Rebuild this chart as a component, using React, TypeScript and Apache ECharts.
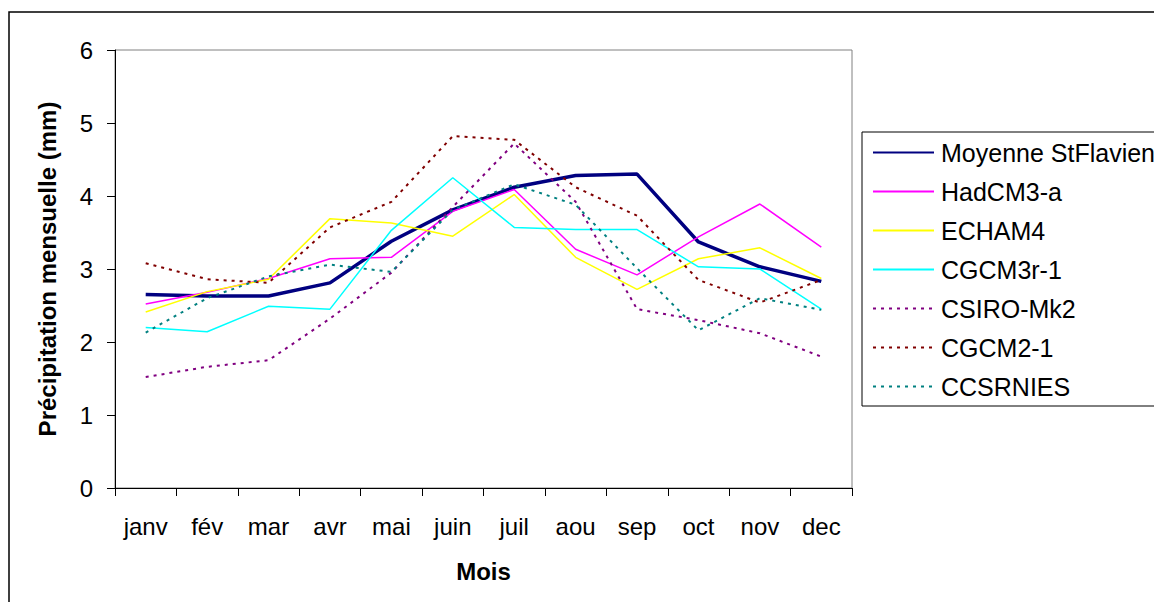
import React, { useEffect, useRef } from "react";
import * as echarts from "echarts";

const months = ["janv", "fév", "mar", "avr", "mai", "juin", "juil", "aou", "sep", "oct", "nov", "dec"];
const yTicks = [0, 1, 2, 3, 4, 5, 6];

const moyenne = [2.65, 2.63, 2.63, 2.81, 3.38, 3.81, 4.12, 4.28, 4.3, 3.37, 3.03, 2.83];
const hadcm3 = [2.52, 2.68, 2.87, 3.14, 3.16, 3.79, 4.09, 3.27, 2.92, 3.44, 3.89, 3.3];
const echam4 = [2.41, 2.69, 2.86, 3.69, 3.63, 3.45, 4.02, 3.16, 2.72, 3.14, 3.29, 2.87];
const cgcm3r1 = [2.2, 2.14, 2.49, 2.45, 3.53, 4.25, 3.57, 3.54, 3.54, 3.03, 3.0, 2.45];
const csiroMk2 = [1.52, 1.66, 1.75, 2.32, 2.95, 3.85, 4.72, 3.92, 2.45, 2.3, 2.12, 1.8];
const cgcm21 = [3.08, 2.86, 2.81, 3.57, 3.92, 4.82, 4.77, 4.12, 3.73, 2.85, 2.54, 2.85];
const ccsrnies = [2.13, 2.6, 2.9, 3.06, 2.96, 3.81, 4.16, 3.88, 3.01, 2.16, 2.6, 2.44];

const seriesNames = ["Moyenne StFlavien", "HadCM3-a", "ECHAM4", "CGCM3r-1", "CSIRO-Mk2", "CGCM2-1", "CCSRNIES"];
const seriesData = [moyenne, hadcm3, echam4, cgcm3r1, csiroMk2, cgcm21, ccsrnies];
const seriesColors = ["#000080", "#FF00FF", "#FFFF00", "#00FFFF", "#800080", "#800000", "#008080"];
const seriesWidths = [3.5, 1.5, 1.5, 1.5, 2, 2, 2];
const seriesDashed = [false, false, false, false, true, true, true];

const FONT = "'Liberation Sans', Arial, sans-serif";

export default function App() {
  const ref = useRef<HTMLDivElement>(null);
  useEffect(() => {
    if (!ref.current) return;
    const chart = echarts.init(ref.current, null, { renderer: "svg" });
    chart.setOption({
      animation: false,
      backgroundColor: "#ffffff",
      textStyle: { fontFamily: FONT },
      graphic: [
        {
          type: "rect",
          shape: { x: 9, y: 12, width: 1200, height: 700 },
          style: { fill: "none", stroke: "#000000", lineWidth: 1.5 },
          silent: true,
          z: -1,
        },
      ],
      grid: {
        left: 115,
        top: 50,
        width: 737,
        height: 438,
        show: true,
        borderColor: "#808080",
        borderWidth: 1,
        backgroundColor: "#ffffff",
      },
      legend: {
        orient: "vertical",
        left: 862,
        top: 132,
        padding: [8, 40, 7, 10],
        borderColor: "#000000",
        borderWidth: 1,
        backgroundColor: "#ffffff",
        itemWidth: 61,
        itemHeight: 14,
        itemGap: 14,
        data: seriesNames,
        itemStyle: { opacity: 0 },
        textStyle: { fontFamily: FONT, fontSize: 25, color: "#000000", padding: [0, 0, 0, 2] },
      },
      xAxis: {
        type: "category",
        data: months,
        boundaryGap: true,
        name: "Mois",
        nameLocation: "middle",
        nameGap: 71,
        nameTextStyle: { fontFamily: FONT, fontSize: 24, fontWeight: "bold", color: "#000000" },
        axisLine: { lineStyle: { color: "#000000", width: 1 } },
        axisTick: { show: true, length: 8, alignWithLabel: false, lineStyle: { color: "#000000" } },
        axisLabel: { fontFamily: FONT, fontSize: 24, color: "#000000", margin: 26, interval: 0 },
        splitLine: { show: false },
      },
      yAxis: {
        type: "value",
        min: 0,
        max: 6,
        interval: 1,
        name: "Précipitation mensuelle (mm)",
        nameLocation: "middle",
        nameGap: 56,
        nameTextStyle: { fontFamily: FONT, fontSize: 24, fontWeight: "bold", color: "#000000" },
        axisLine: { show: true, lineStyle: { color: "#000000", width: 1 } },
        axisTick: { show: true, length: 8, lineStyle: { color: "#000000" } },
        axisLabel: {
          fontFamily: FONT,
          fontSize: 24,
          color: "#000000",
          margin: 22,
          formatter: (v: number) => (yTicks.includes(v) ? String(v) : ""),
        },
        splitLine: { show: false },
      },
      series: seriesNames.map((name, i) => ({
        name,
        type: "line",
        data: seriesData[i],
        symbol: "none",
        smooth: false,
        color: seriesColors[i],
        lineStyle: {
          color: seriesColors[i],
          width: seriesWidths[i],
          type: seriesDashed[i] ? [3, 5] : "solid",
        },
      })),
    });
    return () => chart.dispose();
  }, []);
  return (
    <div
      ref={ref}
      style={{ position: "fixed", left: 0, top: 0, width: 1154, height: 602 }}
    />
  );
}
